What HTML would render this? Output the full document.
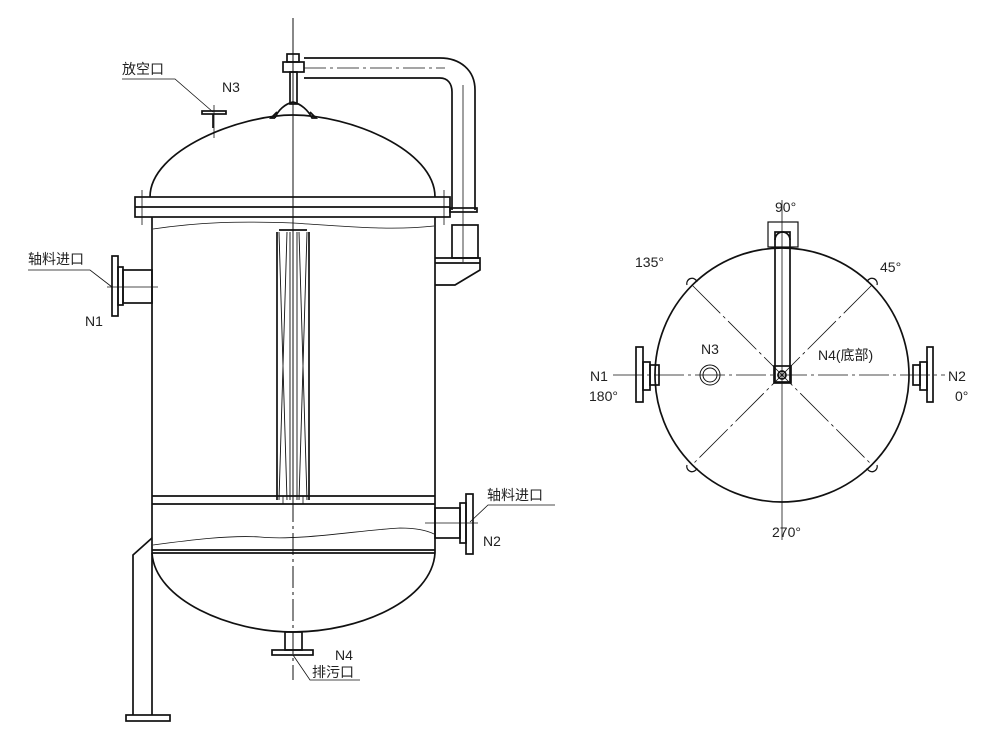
<!DOCTYPE html>
<html><head><meta charset="utf-8"><style>
html,body{margin:0;padding:0;background:#fff}
svg{display:block}
text{font-family:"Liberation Sans","Noto Sans CJK SC",sans-serif;fill:#222;font-size:14px}
</style></head><body>
<svg width="1000" height="736" viewBox="0 0 1000 736" xmlns="http://www.w3.org/2000/svg">
<g fill="none" stroke="#111" stroke-width="1.7">
<line x1="293" y1="18" x2="293" y2="500" stroke-width="1"/>
<line x1="293" y1="500" x2="293" y2="680" stroke-width="1" stroke-dasharray="22,4,3,4"/>
<path d="M150 197 C150 150 240 115 293 115 C350 115 435 150 435 197"/>
<rect x="135" y="197" width="315" height="20"/>
<line x1="135" y1="207" x2="450" y2="207"/>
<line x1="142" y1="190" x2="142" y2="225" stroke-width="0.8"/>
<line x1="444" y1="190" x2="444" y2="225" stroke-width="0.8"/>
<line x1="152" y1="217" x2="152" y2="553"/>
<line x1="435" y1="217" x2="435" y2="553"/>
<path d="M153 229 C200 222 240 221 293 223 C340 226 390 231 434 226" stroke-width="0.8"/>
<path d="M277 232 L277 500 M309 232 L309 500 M279 230 L307 230" />
<path d="M279 232 L287 500 M287 232 L279 500 M307 232 L299 500 M299 232 L307 500 M290 232 L290 500 M297 232 L297 500" stroke-width="0.9"/>
<rect x="283" y="496" width="20" height="8" stroke-width="0.8"/>
<line x1="152" y1="496" x2="435" y2="496"/>
<line x1="152" y1="504" x2="435" y2="504"/>
<path d="M153 545 C190 540 230 535 260 537 C300 541 360 530 400 528 C420 528 430 532 434 534" stroke-width="0.8"/>
<line x1="152" y1="550" x2="435" y2="550"/>
<line x1="152" y1="553" x2="435" y2="553"/>
<path d="M152 553 C155 600 230 632 293 632 C360 632 432 600 435 553"/>
<rect x="285" y="632" width="17" height="18"/>
<rect x="272" y="650" width="41" height="5"/>
<path d="M293 655 L310 680 L360 680" stroke-width="0.8"/>
<path d="M152 538 L133 555 L133 715 M152 553 L152 715"/>
<rect x="126" y="715" width="44" height="6"/>
<rect x="112" y="256" width="6" height="60"/>
<rect x="118" y="267" width="5" height="38"/>
<rect x="123" y="270" width="29" height="33"/>
<line x1="107" y1="287" x2="158" y2="287" stroke-width="0.8"/>
<path d="M28 270 L90 270 L112 287" stroke-width="0.8"/>
<rect x="435" y="508" width="25" height="30"/>
<rect x="460" y="503" width="6" height="40"/>
<rect x="466" y="494" width="7" height="60"/>
<line x1="425" y1="523" x2="478" y2="523" stroke-width="0.8"/>
<path d="M470 522 L488 505 L555 505" stroke-width="0.8"/>
<rect x="202" y="111" width="24" height="3"/>
<line x1="213" y1="114" x2="213" y2="128"/>
<line x1="214" y1="105" x2="214" y2="138" stroke-width="0.8"/>
<path d="M122 79 L175 79 L213 112" stroke-width="0.8"/>
<rect x="283" y="62" width="21" height="10"/>
<rect x="287" y="54" width="12" height="8"/>
<rect x="290" y="72" width="7" height="32"/>
<path d="M275 118 C278 110 285 104 293 102 C301 104 308 110 312 118 L316 118 L310 112 M275 118 L271 118 L277 112" />
<path d="M304 58 L440 58 C460 58 475 70 475 90 L475 210 M304 78 L440 78 C448 78 452 84 452 92 L452 210"/>
<line x1="304" y1="68" x2="445" y2="68" stroke-width="0.8" stroke-dasharray="22,4,3,4"/>
<line x1="463" y1="85" x2="463" y2="262" stroke-width="0.8"/>
<rect x="450" y="208" width="27" height="4"/>
<rect x="452" y="225" width="26" height="33"/>
<path d="M435 258 L480 258 L480 270 L455 285 L435 285 M435 263 L480 263"/>
</g>
<text x="122" y="74">放空口</text>
<text x="222" y="92" font-size="13">N3</text>
<text x="28" y="264">轴料进口</text>
<text x="85" y="326" font-size="13">N1</text>
<text x="487" y="500">轴料进口</text>
<text x="483" y="546" font-size="13">N2</text>
<text x="335" y="660" font-size="13">N4</text>
<text x="312" y="677">排污口</text>

<g fill="none" stroke="#111" stroke-width="1.7">
<circle cx="782" cy="375" r="127"/>
<line x1="613" y1="375" x2="945" y2="375" stroke-width="0.8" stroke-dasharray="30,4,3,4"/>
<line x1="782" y1="200" x2="782" y2="540" stroke-width="0.8"/>
<g stroke-width="0.8" stroke-dasharray="40,4,3,4">
<line x1="692" y1="285" x2="872" y2="465"/>
<line x1="872" y1="285" x2="692" y2="465"/>
</g>
<path d="M687 285 a5 5 0 0 1 10 -3 M867 282 a5 5 0 0 1 10 3 M687 465 a5 5 0 0 0 10 3 M867 468 a5 5 0 0 0 10 -3" stroke-width="1.2"/>
<rect x="768" y="222" width="30" height="25" stroke-width="1.2"/>
<rect x="775" y="232" width="15" height="150"/>
<path d="M775 240 a7.5 8 0 0 1 15 0" />
<rect x="774" y="366" width="17" height="17"/>
<circle cx="782" cy="375" r="4"/>
<rect x="636" y="347" width="7" height="55"/>
<rect x="643" y="362" width="7" height="28"/>
<rect x="650" y="365" width="9" height="20"/>
<rect x="927" y="347" width="6" height="55"/>
<rect x="920" y="362" width="7" height="28"/>
<rect x="913" y="365" width="7" height="20"/>
<circle cx="710" cy="375" r="10" stroke-width="1"/>
<circle cx="710" cy="375" r="7" stroke-width="1"/>
</g>
<text x="775" y="212" font-size="13">90°</text>
<text x="635" y="267" font-size="13">135°</text>
<text x="880" y="272" font-size="13">45°</text>
<text x="701" y="354" font-size="13">N3</text>
<text x="818" y="360" font-size="13">N4(底部)</text>
<text x="590" y="381" font-size="13">N1</text>
<text x="589" y="401" font-size="13">180°</text>
<text x="948" y="381" font-size="13">N2</text>
<text x="955" y="401" font-size="13">0°</text>
<text x="772" y="537" font-size="13">270°</text>
</svg>
</body></html>
